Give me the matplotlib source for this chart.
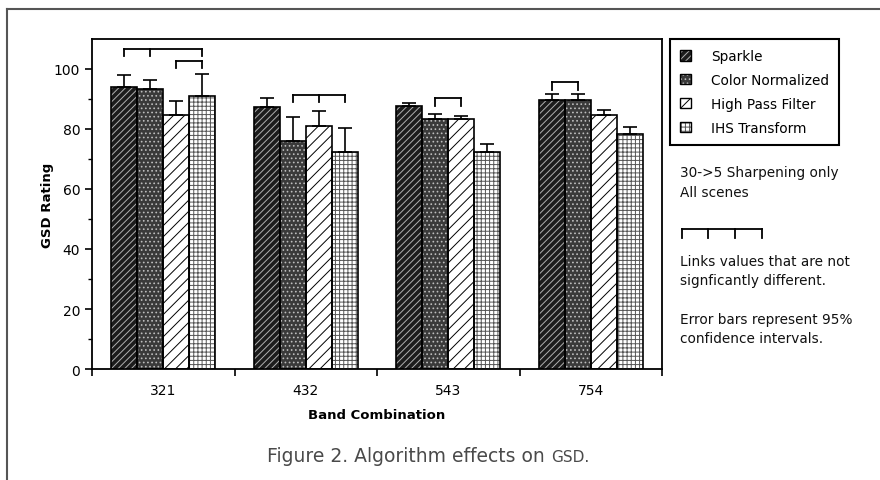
import matplotlib
matplotlib.use("Agg")
import matplotlib.pyplot as plt
from matplotlib.patches import Patch
from matplotlib.lines import Line2D
import numpy as np

# data
bands = ["321", "432", "543", "754"]
algorithms = ["Sparkle", "Color Normalized", "High Pass Filter", "IHS Transform"]
sparkle = [94.1, 87.5, 87.7, 89.7]
color_norm = [93.4, 76.0, 83.3, 89.7]
high_pass = [84.7, 81.0, 83.3, 84.7]
ihs = [91.1, 72.5, 72.5, 78.3]
sparkle_err = [4.0, 3.0, 1.0, 2.0]
color_norm_err = [3.0, 8.0, 1.7, 2.0]
high_pass_err = [4.7, 5.0, 1.0, 1.7]
ihs_err = [7.4, 8.0, 2.5, 2.5]
# brackets linking bars not significantly different: (band index, bar indices, height)
links = [(0, [0, 1, 3], 106.8), (0, [2, 3], 102.8), (1, [1, 2, 3], 91.4),
         (2, [1, 2], 90.2), (3, [0, 1], 95.6)]

values = [sparkle, color_norm, high_pass, ihs]
errors = [sparkle_err, color_norm_err, high_pass_err, ihs_err]
# (face, hatch, hatch colour)
styles = [("#1c1c1c", "/////", "#b0b0b0"),
          ("#3a3a3a", "....", "#bdbdbd"),
          ("white", "///", "black"),
          ("white", "++++", "#555555")]

plt.rcParams["hatch.linewidth"] = 0.7
plt.rcParams["font.family"] = "DejaVu Sans"

fig = plt.figure(figsize=(8.8, 4.81), dpi=100)
ax = fig.add_axes([92 / 880, 1 - 370 / 481, 570 / 880, 330 / 481])

x = np.arange(len(bands))
w = 0.182
handles = []
for i, (vals, errs, (face, hatch, hcol)) in enumerate(zip(values, errors, styles)):
    pos = x + (i - 1.5) * w
    ax.bar(pos, vals, w, color=face, edgecolor="none", linewidth=0, zorder=2)
    ax.bar(pos, vals, w, color="none", edgecolor=hcol, hatch=hatch, linewidth=0, zorder=3)
    ax.bar(pos, vals, w, fill=False, edgecolor="black", linewidth=1.2, zorder=4)
    ax.errorbar(pos, vals, yerr=[np.zeros(len(errs)), errs], fmt="none", ecolor="black",
                elinewidth=1.2, capsize=5, capthick=1.2, zorder=5)
    handles.append((Patch(facecolor=face, edgecolor="none"),
                    Patch(facecolor="none", edgecolor=hcol, hatch=hatch, linewidth=0),
                    Patch(fill=False, edgecolor="black", linewidth=1.0)))

drop = 2.5
for g, bars, h in links:
    xs = [g + (b - 1.5) * w for b in bars]
    ax.plot([xs[0], xs[-1]], [h, h], color="black", lw=1.3, zorder=6)
    for xb in xs:
        ax.plot([xb, xb], [h, h - drop], color="black", lw=1.3, zorder=6)

ax.set_xlim(-0.5, len(bands) - 0.5)
ax.set_ylim(0, 110)
ax.set_xticks(x)
ax.set_xticklabels(bands, fontsize=10)
ax.set_xticks(np.arange(len(bands) + 1) - 0.5, minor=True)
ax.tick_params(axis="x", which="major", length=0, pad=10)
ax.tick_params(axis="x", which="minor", length=5, width=1.2, direction="out")
ax.set_yticks(np.arange(0, 101, 20))
ax.set_yticks(np.arange(0, 101, 10), minor=True)
ax.tick_params(axis="y", which="major", length=5, width=1.2, labelsize=10)
ax.tick_params(axis="y", which="minor", length=3, width=1.0)
for s in ax.spines.values():
    s.set_linewidth(1.3)
ax.set_ylabel("GSD Rating", fontsize=9.5, fontweight="bold", labelpad=0)
ax.set_xlabel("Band Combination", fontsize=9.5, fontweight="bold", labelpad=8)

leg = fig.legend(handles, algorithms, loc="upper left",
                 bbox_to_anchor=(670 / 880, 1 - 40 / 481), borderaxespad=0,
                 fontsize=9.8, handlelength=0.8, handleheight=0.8, handletextpad=1.45,
                 labelspacing=0.72, borderpad=0.75, fancybox=False, framealpha=1,
                 edgecolor="black")
leg.get_frame().set_linewidth(1.5)

tx = 680 / 880
note_lines = [("30->5 Sharpening only", 173), ("All scenes", 193),
              ("Links values that are not", 262), ("signficantly different.", 281),
              ("Error bars represent 95%", 320), ("confidence intervals.", 339)]
for txt, ypx in note_lines:
    fig.text(tx, 1 - ypx / 481, txt, fontsize=9.8, va="center", ha="left", color="#111111")

# bracket symbol in the notes
bx = [682, 708, 735, 762]
fig.add_artist(Line2D([bx[0] / 880, bx[-1] / 880], [1 - 230 / 481] * 2,
                      transform=fig.transFigure, color="black", lw=1.3))
for b in bx:
    fig.add_artist(Line2D([b / 880] * 2, [1 - 230 / 481, 1 - 239 / 481],
                          transform=fig.transFigure, color="black", lw=1.3))

# page frame
fig.add_artist(Line2D([7 / 880, 1], [1 - 10 / 481] * 2, transform=fig.transFigure,
                      color="#555555", lw=1.5))
fig.add_artist(Line2D([7 / 880] * 2, [0, 1 - 10 / 481], transform=fig.transFigure,
                      color="#555555", lw=1.5))

# caption with small caps GSD
renderer = fig.canvas.get_renderer()
cap1 = fig.text(267 / 880, 1 - 456 / 481, "Figure 2. Algorithm effects on ", fontsize=13.5,
                color="#4a4a4a", va="center", ha="left")
bb = cap1.get_window_extent(renderer)
fig.text(bb.x1 / 880, 1 - 456 / 481, "GSD.", fontsize=11, color="#4a4a4a",
         va="baseline", ha="left",
         transform=fig.transFigure).set_y(bb.y0 / 481 + 3.2 / 481)

fig.savefig("out.png", dpi=100)
